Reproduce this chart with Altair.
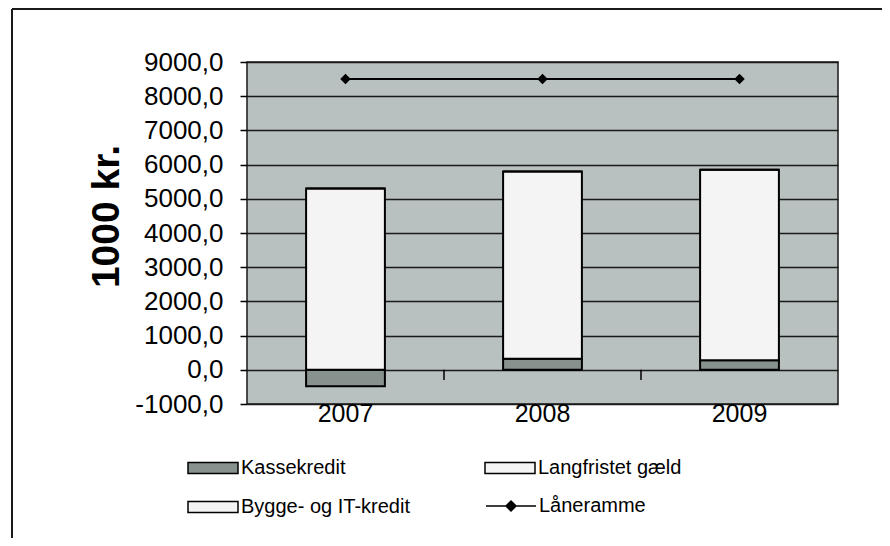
import altair as alt
import pandas as pd

# ---- data ----
years = ["2007", "2008", "2009"]
kassekredit = [-480, 320, 280]
langfristet_gaeld = [5300, 5480, 5570]
bygge_it_kredit = [0, 0, 0]
laaneramme = [8500, 8500, 8500]

bar_series = ["Kassekredit", "Bygge- og IT-kredit", "Langfristet gæld"]
bar_colors = ["#87928e", "#f3f4f3", "#f3f4f3"]
stack_rank = {"Kassekredit": 0, "Langfristet gæld": 1, "Bygge- og IT-kredit": 2}
line_series = ["Låneramme"]
y_ticks = [-1000, 0, 1000, 2000, 3000, 4000, 5000, 6000, 7000, 8000, 9000]

series_values = {
    "Kassekredit": kassekredit,
    "Langfristet gæld": langfristet_gaeld,
    "Bygge- og IT-kredit": bygge_it_kredit,
}
rows = []
for i, yr in enumerate(years):
    for name, vals in series_values.items():
        rows.append({"år": yr, "serie": name, "værdi": vals[i], "orden": stack_rank[name]})
bars_df = pd.DataFrame(rows)
line_df = pd.DataFrame({"år": years, "værdi": laaneramme, "serie": line_series * len(years)})
# category boundaries that carry a tick on the zero line (left side of 2008 and 2009)
boundary_df = pd.DataFrame({"år": years[1:]})

FONT = "Liberation Sans"
W, H = 591, 342
y_min, y_max = -1000, 9000
p_inner, p_outer = 0.6, 0.3
half_gap = p_inner * (W / len(years)) / 2

x_scale = alt.Scale(paddingInner=p_inner, paddingOuter=p_outer)
y_scale = alt.Scale(domain=[y_min, y_max], nice=False)

x_axis = alt.Axis(
    orient="bottom", ticks=False, labelPadding=-3, labelFontSize=25, labelFont=FONT,
    labelColor="black", domain=False, grid=False, labelAngle=0, title=None,
)
y_axis = alt.Axis(
    values=y_ticks, tickSize=7, tickColor="black", tickWidth=1.5, labelPadding=17,
    labelFontSize=26, labelFont=FONT, labelColor="black", domain=False, labelOverlap=False,
    grid=True, gridColor="#1a1a1a", gridWidth=1.5,
    labelExpr="replace(replace(format(datum.value, '.1f'), '.', ','), '\u2212', '-')",
    title="1000 kr.", titleFont=FONT, titleFontSize=39, titleFontWeight="bold", titleColor="black",
    titleX=-141, titleY=154, titleAlign="center", titleBaseline="middle", titleAngle=270,
)

bar_symbol = "M-2.5,-0.55H2.5V0.55H-2.5Z"
line_symbol = "M-2.5,0H2.5M0,-0.5L0.5,0L0,0.5L-0.5,0Z"

bars = alt.Chart(bars_df).mark_bar(stroke="black", strokeWidth=2).encode(
    x=alt.X("år:N", sort=years, scale=x_scale, axis=x_axis),
    y=alt.Y("værdi:Q", scale=y_scale, axis=y_axis, stack="zero"),
    fill=alt.Fill(
        "serie:N",
        scale=alt.Scale(domain=bar_series, range=bar_colors),
        title=None,
        legend=alt.Legend(
            orient="none", legendX=-45, legendY=395, columns=2, columnPadding=72, rowPadding=18,
            symbolType=bar_symbol, symbolSize=400, symbolStrokeColor="black", symbolStrokeWidth=1.5,
            symbolOpacity=1, labelFontSize=20, labelFont=FONT, labelColor="black", labelOffset=17,
            labelLimit=400, padding=0,
        ),
    ),
    order=alt.Order("orden:Q"),
)

cat_ticks = alt.Chart(boundary_df).mark_rule(color="black", strokeWidth=1.5).encode(
    x=alt.X("år:N", sort=years, scale=x_scale, axis=x_axis, bandPosition=0),
    xOffset=alt.value(-half_gap),
    y=alt.datum(0, scale=y_scale, axis=y_axis),
    y2=alt.datum(-300),
)

line = alt.Chart(line_df).mark_line(strokeWidth=2).encode(
    x=alt.X("år:N", sort=years, scale=x_scale, axis=x_axis),
    y=alt.Y("værdi:Q", scale=y_scale, axis=y_axis),
    stroke=alt.Stroke(
        "serie:N",
        scale=alt.Scale(domain=line_series, range=["black"]),
        title=None,
        legend=alt.Legend(
            orient="none", legendX=253, legendY=433,
            symbolType=line_symbol, symbolSize=400, symbolStrokeColor="black", symbolFillColor="black",
            symbolStrokeWidth=1.5, labelFontSize=20, labelFont=FONT, labelColor="black", labelOffset=17,
            labelLimit=400, padding=0,
        ),
    ),
)

points = alt.Chart(line_df).mark_point(shape="diamond", filled=True, size=110, color="black", opacity=1).encode(
    x=alt.X("år:N", sort=years, scale=x_scale, axis=x_axis),
    y=alt.Y("værdi:Q", scale=y_scale, axis=y_axis),
)

frame_top = alt.Chart(pd.DataFrame({"f": [0]})).mark_rule(color="#1a1a1a", strokeWidth=2).encode(
    x=alt.value(-235), x2=alt.value(1000), y=alt.value(-53),
)
frame_left = alt.Chart(pd.DataFrame({"f": [0]})).mark_rule(color="#1a1a1a", strokeWidth=2).encode(
    x=alt.value(-235), y=alt.value(-53), y2=alt.value(700),
)

chart = alt.layer(bars, cat_ticks, line, points, frame_top, frame_left).properties(
    width=W, height=H,
    autosize=alt.AutoSizeParams(type="none"),
    padding={"left": 239, "top": 54, "right": 44, "bottom": 134},
    background="white",
).configure_view(
    fill="#b9c1c0", stroke="#1a1a1a", strokeWidth=1.5,
)

chart.save("out.html", embed_options={"renderer": "svg", "actions": False})
